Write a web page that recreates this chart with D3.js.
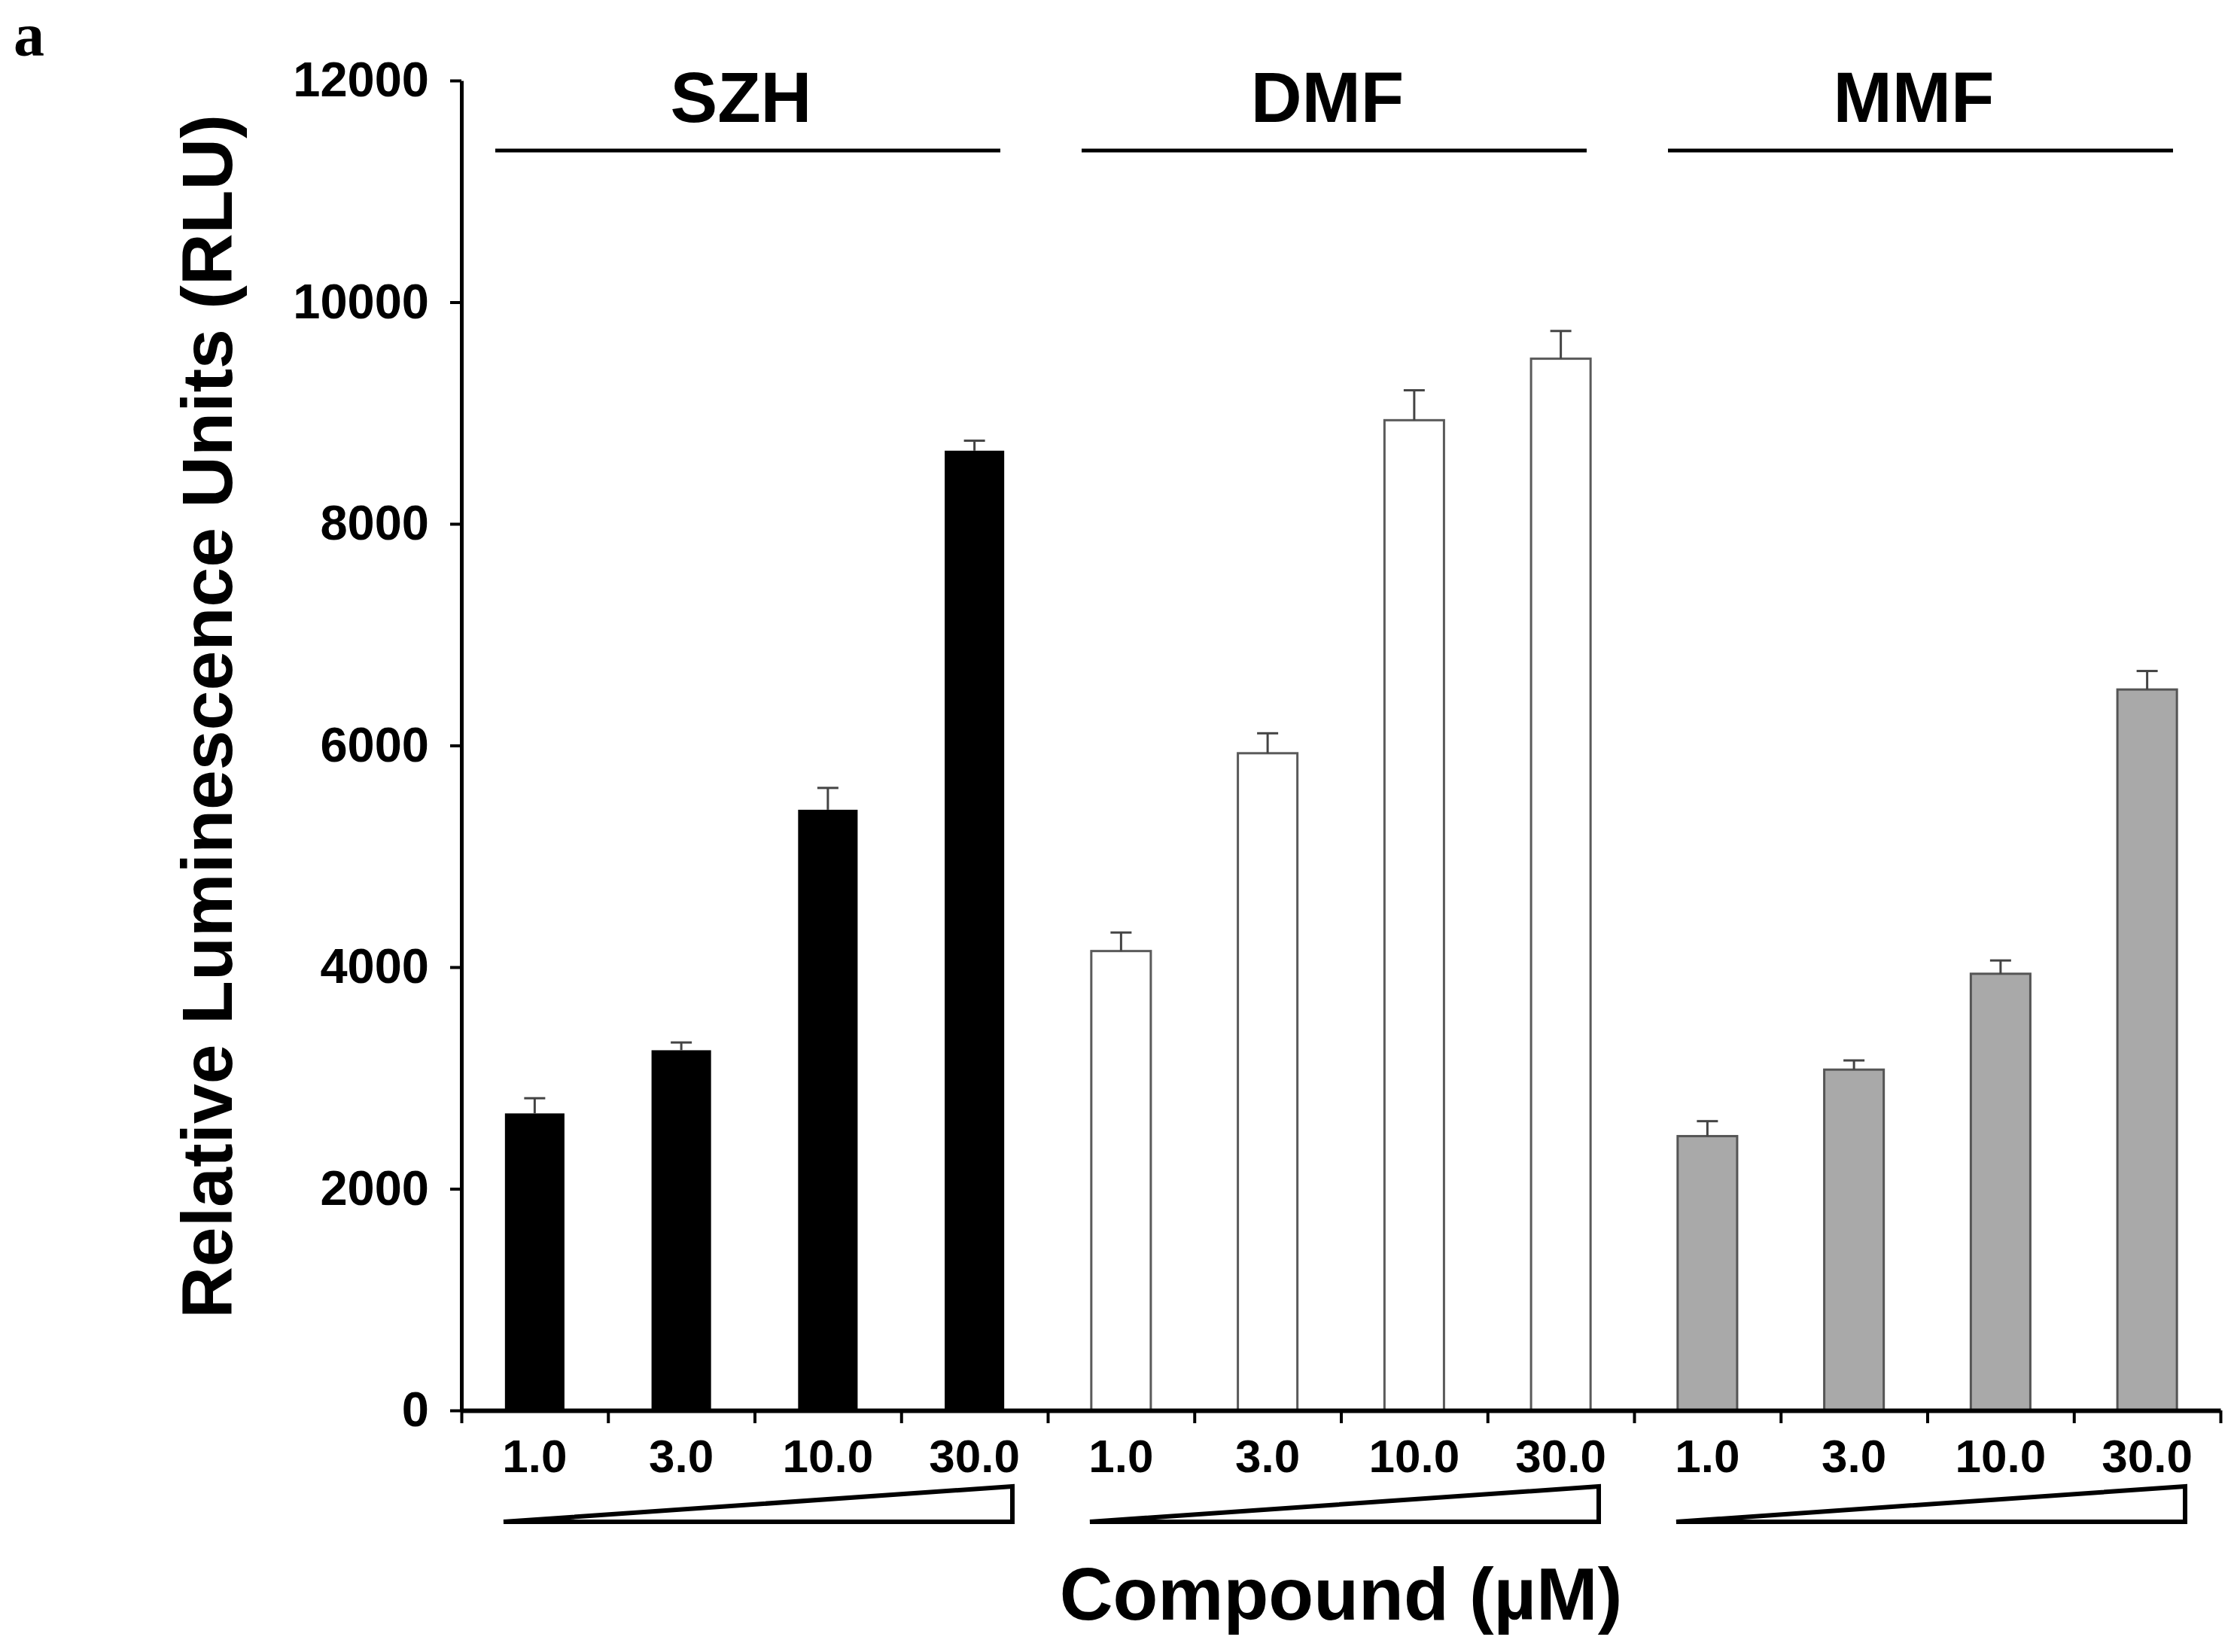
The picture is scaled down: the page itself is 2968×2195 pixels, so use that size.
<!DOCTYPE html>
<html>
<head>
<meta charset="utf-8">
<script src="https://cdn.jsdelivr.net/npm/d3@7/dist/d3.min.js"></script>
<style>
  html, body { margin: 0; padding: 0; background: #fff; }
  svg { display: block; }
  text { font-family: "Liberation Sans", Arial, sans-serif; font-weight: bold; fill: #000; }
</style>
</head>
<body>
<svg id="chart" width="2968" height="2195"></svg>
<script>
// ---- data ----
const groups = ["SZH", "DMF", "MMF"];
const doses = ["1.0", "3.0", "10.0", "30.0"];
const szhValues = [2680, 3250, 5420, 8660];
const szhErrors = [137, 70, 197, 90];
const dmfValues = [4145, 5930, 8935, 9490];
const dmfErrors = [167, 180, 270, 250];
const mmfValues = [2475, 3075, 3940, 6505];
const mmfErrors = [135, 83, 120, 167];
const yTicks = [0, 2000, 4000, 6000, 8000, 10000, 12000];
const yLabel = "Relative Luminescence Units (RLU)";
const xLabel = "Compound (\u00B5M)";
const panelLabel = "a";

(function () {
const seriesValues = [szhValues, dmfValues, mmfValues];
const seriesErrors = [szhErrors, dmfErrors, mmfErrors];
const groupStyles = [
  { fill: "#000000", stroke: "#000000" },
  { fill: "#ffffff", stroke: "#5a5a5a" },
  { fill: "#a9a9a9", stroke: "#555555" }
];

const rows = [];
groups.forEach((g, gi) => doses.forEach((d, di) => rows.push({
  key: g + "|" + d, group: g, gi, dose: d,
  value: seriesValues[gi][di], err: seriesErrors[gi][di]
})));

// ---- layout ----
const svg = d3.select("#chart");
const pLeft = 613, pRight = 2950, pTop = 107, pBottom = 1874;

const y = d3.scaleLinear().domain([0, 12000]).range([pBottom, pTop]);
const pad = 0.594;
const x = d3.scaleBand().domain(rows.map(r => r.key)).range([pLeft, pRight])
  .paddingInner(pad).paddingOuter(pad / 2);
const cell = d3.scaleLinear().domain([0, rows.length]).range([pLeft, pRight]);

// bars
svg.append("g").selectAll("rect").data(rows).join("rect")
  .attr("x", d => x(d.key))
  .attr("y", d => y(d.value))
  .attr("width", x.bandwidth())
  .attr("height", d => y(0) - y(d.value))
  .attr("fill", d => groupStyles[d.gi].fill)
  .attr("stroke", d => groupStyles[d.gi].stroke)
  .attr("stroke-width", d => d.gi === 0 ? 0 : 3);

// error bars
const eg = svg.append("g").attr("stroke", "#444").attr("stroke-width", 3);
eg.selectAll("line.v").data(rows).join("line").attr("class", "v")
  .attr("x1", d => x(d.key) + x.bandwidth() / 2)
  .attr("x2", d => x(d.key) + x.bandwidth() / 2)
  .attr("y1", d => y(d.value))
  .attr("y2", d => y(d.value + d.err));
eg.selectAll("line.c").data(rows).join("line").attr("class", "c")
  .attr("x1", d => x(d.key) + x.bandwidth() / 2 - 14)
  .attr("x2", d => x(d.key) + x.bandwidth() / 2 + 14)
  .attr("y1", d => y(d.value + d.err))
  .attr("y2", d => y(d.value + d.err));

// y axis
const yAxis = svg.append("g").attr("transform", `translate(${pLeft},0)`)
  .call(d3.axisLeft(y).tickValues(yTicks).tickFormat(d3.format("d"))
    .tickSizeInner(15).tickSizeOuter(0).tickPadding(28));
yAxis.select(".domain").attr("stroke", "#000").attr("stroke-width", 5);
yAxis.selectAll(".tick line").attr("stroke", "#000").attr("stroke-width", 4);
yAxis.selectAll(".tick text").style("font-size", "65px")
  .style("font-family", "'Liberation Sans', Arial, sans-serif").style("font-weight", "bold");

// x axis: boundary ticks
const xTickAxis = svg.append("g").attr("transform", `translate(0,${pBottom})`)
  .call(d3.axisBottom(cell).tickValues(d3.range(0, rows.length + 1)).tickFormat("")
    .tickSizeInner(17).tickSizeOuter(0));
xTickAxis.select(".domain").attr("stroke", "#000").attr("stroke-width", 6);
xTickAxis.selectAll(".tick line").attr("stroke", "#000").attr("stroke-width", 4);

// x axis: dose labels
const xLabAxis = svg.append("g").attr("transform", `translate(0,${pBottom})`)
  .call(d3.axisBottom(x).tickSize(0).tickPadding(38).tickFormat(k => k.split("|")[1]));
xLabAxis.select(".domain").remove();
xLabAxis.selectAll(".tick text").style("font-size", "62px")
  .style("font-family", "'Liberation Sans', Arial, sans-serif").style("font-weight", "bold");

// group header lines and labels, concentration triangles
groups.forEach((g, gi) => {
  const g0 = cell(gi * doses.length), g1 = cell((gi + 1) * doses.length);
  const lx0 = g0 + 45, lx1 = g1 - 63;
  svg.append("line").attr("x1", lx0).attr("x2", lx1).attr("y1", 200).attr("y2", 200)
    .attr("stroke", "#000").attr("stroke-width", 5);
  svg.append("text").attr("x", (g0 + g1) / 2 - 18).attr("y", 162)
    .attr("text-anchor", "middle").style("font-size", "94px").text(g);
  const tx0 = g0 + 56, tx1 = g1 - 47;
  svg.append("path")
    .attr("d", `M${tx0},2022 L${tx1},2022 L${tx1},1975 Z`)
    .attr("fill", "#fff").attr("stroke", "#000").attr("stroke-width", 6)
    .attr("stroke-linejoin", "miter").attr("stroke-miterlimit", 2);
});

// axis titles
svg.append("text").attr("transform", "translate(308,952) rotate(-90)")
  .attr("text-anchor", "middle").style("font-size", "95px").text(yLabel);
svg.append("text").attr("x", (pLeft + pRight) / 2).attr("y", 2152)
  .attr("text-anchor", "middle").style("font-size", "98px").text(xLabel);

// panel label
svg.append("text").attr("x", 18).attr("y", 74)
  .style("font-family", "'Liberation Serif', 'Times New Roman', serif")
  .style("font-size", "82px").text(panelLabel);
})();
</script>
</body>
</html>
